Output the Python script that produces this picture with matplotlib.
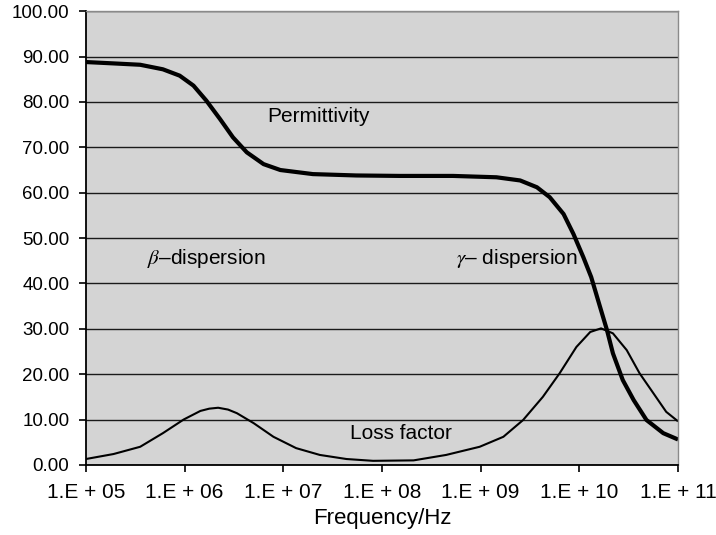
import numpy as np
import matplotlib
matplotlib.use('Agg')
import matplotlib.pyplot as plt

plt.rcParams['font.family'] = ['Liberation Sans', 'DejaVu Sans']
plt.rcParams['mathtext.fontset'] = 'stix'

# log10 of frequency in Hz
perm_logf = [5.0, 5.28, 5.55, 5.78, 5.95, 6.09, 6.22, 6.36, 6.49, 6.63, 6.80, 6.97, 7.30, 7.74,
             8.18, 8.72, 9.16, 9.40, 9.57, 9.70, 9.84, 9.94, 10.04, 10.12, 10.21, 10.28, 10.34,
             10.44, 10.55, 10.68, 10.85, 11.0]
permittivity = [88.8, 88.5, 88.2, 87.2, 85.8, 83.6, 80.3, 76.2, 72.2, 68.9, 66.3, 65.0, 64.1, 63.8,
                63.7, 63.7, 63.4, 62.7, 61.2, 59.0, 55.3, 50.9, 45.8, 41.4, 34.8, 29.7, 24.6,
                18.7, 14.3, 9.9, 7.0, 5.6]

loss_logf = [5.0, 5.28, 5.55, 5.78, 5.99, 6.16, 6.25, 6.34, 6.44, 6.53, 6.70, 6.90, 7.13, 7.37,
             7.64, 7.91, 8.32, 8.65, 8.99, 9.23, 9.43, 9.63, 9.80, 9.97, 10.11, 10.22, 10.34,
             10.48, 10.61, 10.75, 10.88, 11.0]
loss_factor = [1.3, 2.4, 4.0, 7.0, 10.0, 11.9, 12.4, 12.6, 12.2, 11.4, 9.2, 6.2, 3.7, 2.2,
               1.3, 0.9, 1.0, 2.2, 4.0, 6.2, 9.9, 15.0, 20.2, 26.0, 29.3, 30.1, 29.0,
               25.3, 20.2, 15.8, 11.7, 9.6]

x_ticks = [1e5, 1e6, 1e7, 1e8, 1e9, 1e10, 1e11]
x_tick_labels = ['1.E + 05', '1.E + 06', '1.E + 07', '1.E + 08', '1.E + 09', '1.E + 10', '1.E + 11']
y_ticks = list(range(0, 101, 10))

fig = plt.figure(figsize=(7.16, 5.35), dpi=100)
ax = fig.add_axes([0.120, 0.131, 0.827, 0.848])
ax.set_facecolor('#d4d4d4')

ax.plot(10 ** np.array(perm_logf), permittivity, color='black', lw=3.0,
        solid_joinstyle='round', solid_capstyle='butt')
ax.plot(10 ** np.array(loss_logf), loss_factor, color='black', lw=1.5,
        solid_joinstyle='round', solid_capstyle='butt')

ax.set_xscale('log')
ax.set_xlim(1e5, 1e11)
ax.set_ylim(0, 100)
ax.set_xticks(x_ticks)
ax.set_xticklabels(x_tick_labels)
ax.minorticks_off()
ax.set_yticks(y_ticks)
ax.set_yticklabels(['%.2f' % v for v in y_ticks])
ax.tick_params(axis='both', direction='out', length=5, width=1.2, color='black')
ax.tick_params(axis='y', pad=7, labelsize=13.5)
ax.tick_params(axis='x', pad=8, labelsize=15)

ax.yaxis.grid(True, color='#1a1a1a', lw=1.0)
ax.set_axisbelow(True)

for s in ['left', 'bottom']:
    ax.spines[s].set_color('black')
    ax.spines[s].set_linewidth(1.3)
for s in ['top', 'right']:
    ax.spines[s].set_color('#8a8a8a')
    ax.spines[s].set_linewidth(1.0)

ax.set_xlabel('Frequency/Hz', fontsize=16, labelpad=4)

ax.text(10 ** 6.834, 75.6, 'Permittivity', fontsize=15, va='baseline', ha='left')
ax.text(10 ** 5.62, 44.3, r'$\beta$–dispersion', fontsize=15, va='baseline', ha='left')
ax.text(10 ** 8.755, 44.2, r'$\gamma$– dispersion', fontsize=15, va='baseline', ha='left')
ax.text(10 ** 7.68, 5.65, 'Loss factor', fontsize=15, va='baseline', ha='left')

fig.savefig('out.png', dpi=100)
